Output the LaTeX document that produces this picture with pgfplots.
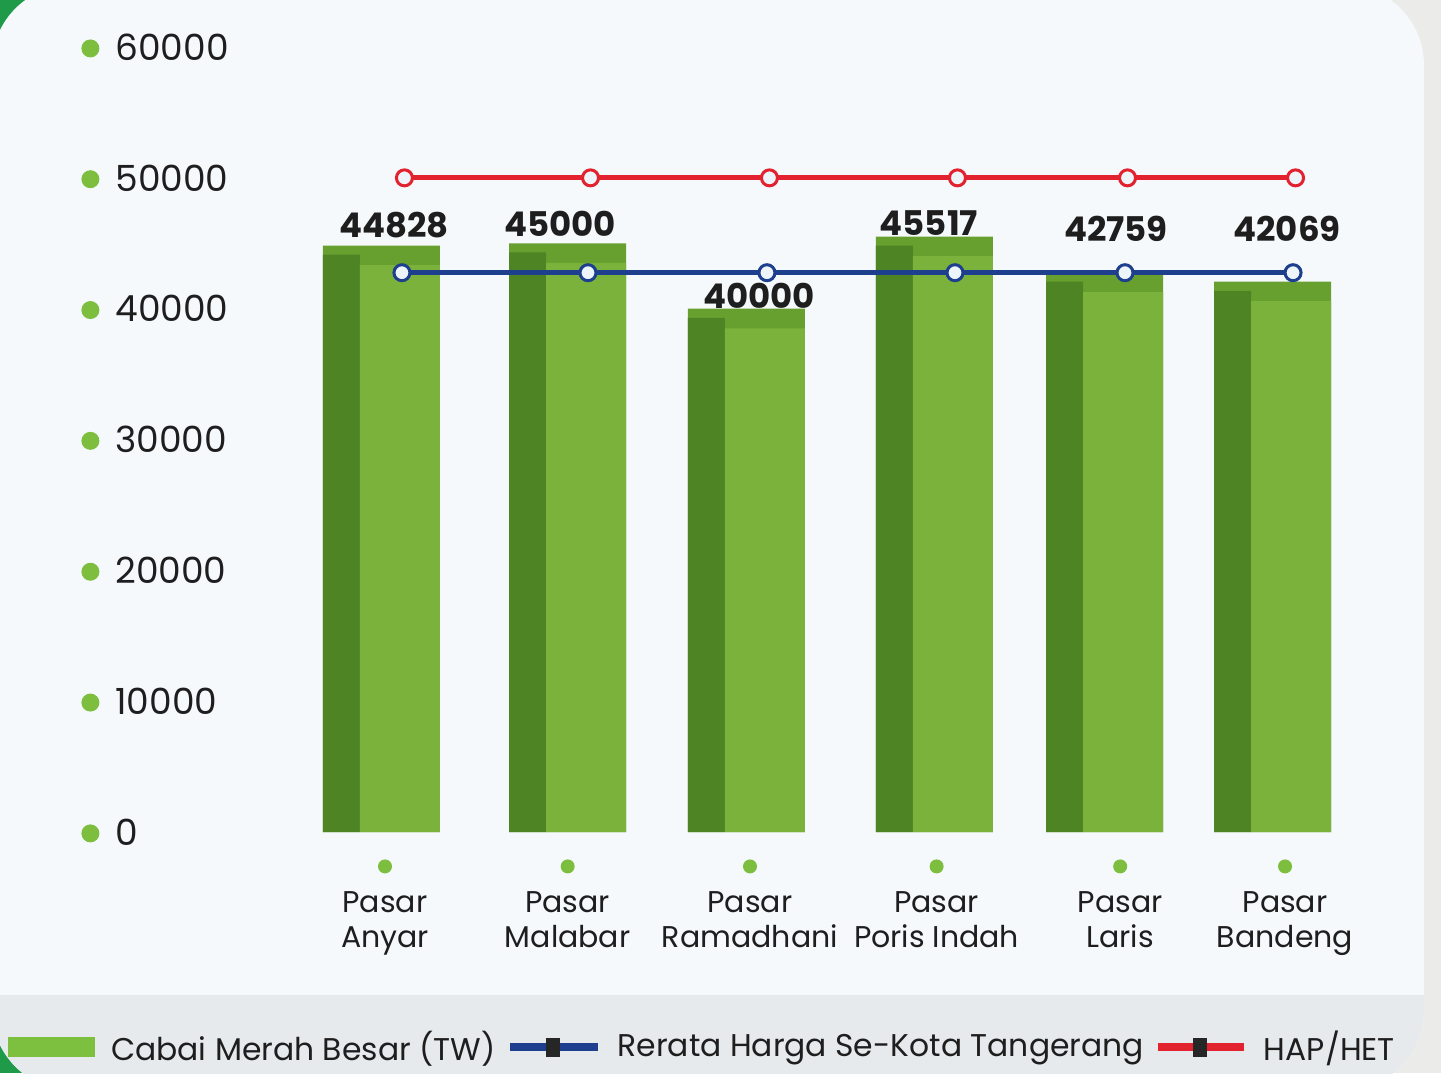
\documentclass[border=0pt]{standalone}
\usepackage{pgfplots}
\pgfplotsset{compat=1.18}
\usepackage{pgfplotstable}
\usepackage{fontspec}
\setmainfont{Poppins}
\definecolor{cardbg}{HTML}{F5F9FC}
\definecolor{bandgray}{HTML}{E7EAEC}
\definecolor{sidegray}{HTML}{EBEBEA}
\definecolor{cornergreen}{HTML}{1F9A48}
\definecolor{dotgreen}{HTML}{7DBE3F}
\definecolor{topgreen}{HTML}{68A02F}
\definecolor{darkgreen}{HTML}{4E8424}
\definecolor{frontgreen}{HTML}{7AB23B}
\definecolor{leggreen}{HTML}{7DC03F}
\definecolor{avgblue}{HTML}{1D3F8E}
\definecolor{hapred}{HTML}{E3222F}
\definecolor{marker}{HTML}{EEF5FA}
\definecolor{txt}{HTML}{1E1E1E}
\newcommand{\lstrut}{\rule[-4.5pt]{0pt}{15.5pt}}

\pgfplotstableread{
x v avg hap
0     44828 42750 50000
1.044 45000 42750 50000
2.048 40000 42750 50000
3.103 45517 42750 50000
4.057 42759 42750 50000
5.0   42069 42750 50000
}\bardata

\pgfplotstableread{
x y lab
-0.045 46395 44828
0.887  46471 45000
2.003  40968 40000
2.957  46550 45517
4.007  46089 42759
4.966  46089 42069
}\labdata

\begin{document}
\begin{tikzpicture}
\path[use as bounding box] (0,0) rectangle (720.5pt,-536.5pt);
\fill[sidegray] (0,0) rectangle (720.5pt,-536.5pt);
\fill[cornergreen] (0,0) rectangle (50pt,-50pt);
\fill[cornergreen] (0,-500pt) rectangle (30pt,-536.5pt);
\begin{scope}
\clip[rounded corners=40pt] (-4pt,7.5pt) rectangle (712pt,-545pt);
\fill[cardbg] (-4pt,7.5pt) rectangle (712pt,-545pt);
\fill[bandgray] (-4pt,-497.5pt) rectangle (712pt,-545pt);
\end{scope}

\begin{axis}[
  at={(147.5pt,-416pt)}, anchor=south west,
  scale only axis, width=552.5pt, height=392.5pt,
  xmin=-0.6, xmax=5.6, ymin=0, ymax=60000,
  axis line style={draw=none}, major tick length=0pt,
  tick style={draw=none},
  clip=false,
  scaled y ticks=false,
  /pgf/number format/1000 sep={},
  /pgf/number format/assume math mode=true,
  ytick={0,10000,20000,30000,40000,50000,60000},
  yticklabel={\tikz[baseline=-0.6ex]\fill[dotgreen] (0,0) circle (4.5pt);\hspace{8pt}\pgfmathprintnumber{\tick}},
  yticklabel style={anchor=west, inner sep=0pt, xshift=-107pt, font=\fontsize{18}{20}\selectfont, text=txt},
  xtick={-0.095,0.93,1.953,3.0,4.03,4.955},
  xticklabels={
    {\tikz\fill[dotgreen] (0,0) circle (3.5pt);\\[2pt]Pasar\\Anyar},
    {\tikz\fill[dotgreen] (0,0) circle (3.5pt);\\[2pt]Pasar\\Malabar},
    {\tikz\fill[dotgreen] (0,0) circle (3.5pt);\\[2pt]Pasar\\Ramadhani},
    {\tikz\fill[dotgreen] (0,0) circle (3.5pt);\\[2pt]Pasar\\Poris Indah},
    {\tikz\fill[dotgreen] (0,0) circle (3.5pt);\\[2pt]Pasar\\Laris},
    {\tikz\fill[dotgreen] (0,0) circle (3.5pt);\\[2pt]Pasar\\Bandeng}},
  xticklabel style={align=center, anchor=north, inner sep=0pt, yshift=-13.5pt, font=\fontsize{15}{17.5}\selectfont, text=txt},
  legend columns=-1,
  legend style={at={(-0.2597,-0.2739)}, anchor=west, draw=none, fill=none,
    inner sep=0pt, outer sep=0pt, nodes={inner sep=0pt},
    font=\fontsize{15.7}{19}\selectfont, text=txt,
    /tikz/every odd column/.append style={column sep=8pt},
    /tikz/every even column/.append style={column sep=5pt}},
]
% top face layer
\addplot[ybar, bar width=58.5pt, bar shift=-10.25pt, fill=topgreen, draw=none, forget plot]
  table[x=x, y=v] {\bardata};
% dark side
\addplot[ybar, bar width=18.5pt, bar shift=-30.25pt, fill=darkgreen, draw=none, forget plot]
  table[x=x, y expr=\thisrow{v}-700] {\bardata};
% front face
\addplot[ybar, bar width=40pt, bar shift=-1pt, fill=frontgreen, draw=none,
  legend image code/.code={\fill[leggreen] (0pt,-5pt) rectangle (43.5pt,5pt);}]
  table[x=x, y expr=\thisrow{v}-1500] {\bardata};
\addlegendentry{\lstrut Cabai Merah Besar (TW)}
% average line
\addplot[avgblue, line width=2.5pt, mark=*, mark size=4pt,
  mark options={fill=marker, draw=avgblue, line width=1.5pt},
  legend image code/.code={\draw[avgblue, line width=4pt] (0pt,0pt) -- (44pt,0pt);
    \fill[black!85] (19.5pt,-3.5pt) rectangle (24pt,3.5pt);}]
  table[x=x, y=avg] {\bardata};
\addlegendentry{\lstrut Rerata Harga Se-Kota Tangerang}
% HAP line
\addplot[hapred, line width=2.5pt, mark=*, mark size=4pt, xshift=1.25pt,
  mark options={fill=marker, draw=hapred, line width=1.5pt},
  legend image code/.code={\draw[hapred, line width=4pt] (0pt,0pt) -- (43pt,0pt);
    \fill[black!85] (19pt,-3.5pt) rectangle (23.5pt,3.5pt);}]
  table[x=x, y=hap] {\bardata};
\addlegendentry{\lstrut HAP/HET}
% value labels
\addplot[draw=none, mark=none, nodes near coords, point meta=explicit symbolic,
  every node near coord/.style={anchor=center, inner sep=0pt, font=\fontsize{17}{19}\bfseries\selectfont, text=txt},
  forget plot]
  table[x=x, y=y, meta=lab] {\labdata};
\end{axis}
\end{tikzpicture}
\end{document}
